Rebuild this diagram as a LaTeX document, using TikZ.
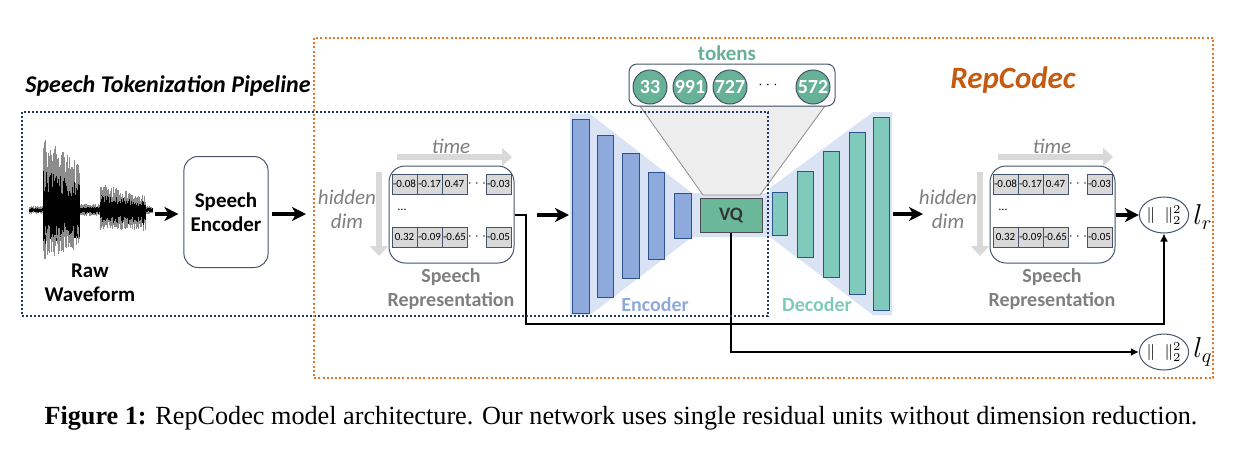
\documentclass[tikz,border=0pt]{standalone}
\usepackage{fontspec}
\setmainfont{Carlito}
\newfontfamily\capfont{Liberation Serif}
\usetikzlibrary{arrows.meta,shapes.geometric}

\definecolor{navyline}{RGB}{32,56,100}
\definecolor{orangeline}{RGB}{232,118,40}
\definecolor{repcol}{RGB}{197,90,17}
\definecolor{encfill}{RGB}{142,169,219}
\definecolor{encdraw}{RGB}{47,82,143}
\definecolor{bgblue}{RGB}{218,227,243}
\definecolor{decfill}{RGB}{127,202,187}
\definecolor{vqfill}{RGB}{106,183,154}
\definecolor{tokfill}{RGB}{103,178,151}
\definecolor{labgray}{RGB}{127,127,127}
\definecolor{arrgray}{RGB}{217,217,217}
\definecolor{cellfill}{RGB}{217,217,217}
\definecolor{boxline}{RGB}{68,84,106}
\definecolor{wavegray}{RGB}{140,140,140}

\begin{document}
\begin{tikzpicture}[x=0.5pt, y=-0.5pt,
    thickarrow/.style={-{Stealth[length=7pt,width=7pt,inset=2pt]}, line width=1.7pt},
    thinarrow/.style={-{Latex[length=4pt,width=4pt]}, line width=1pt},
    grayarrow/.style={-{Triangle[length=5pt,width=9pt]}, line width=3pt, arrgray},
    bar/.style={draw=encdraw, line width=0.5pt},
    cell/.style={draw=boxline, fill=cellfill, line width=0.4pt, minimum width=12.5pt, minimum height=10pt, inner sep=0pt, font=\fontsize{5.5}{6}\selectfont},
    repbox/.style={draw=boxline, line width=0.5pt, rounded corners=8pt, minimum width=62.5pt, minimum height=48.5pt},
    graylab/.style={labgray, font=\bfseries\fontsize{10}{12}\selectfont, align=center},
    axislab/.style={labgray, font=\itshape\fontsize{10.5}{12}\selectfont, align=center},
    tokcirc/.style={circle, draw=boxline, fill=tokfill, line width=0.5pt, minimum size=17pt, inner sep=0pt, text=white, font=\bfseries\fontsize{10}{11}\selectfont},
    lossnode/.style={draw=boxline, ellipse, line width=0.5pt, minimum width=22pt, minimum height=18pt, inner sep=0pt, font=\fontsize{8.5}{10}\selectfont}]
\useasboundingbox (0,0) rectangle (1242,462);

% waveform
\pgfmathsetseed{11}
\foreach \x in {29,29.5,...,152}{
  \pgfmathsetmacro\amp{\x<43 ? 4 : (\x<80 ? 75-0.8*(\x-43) : (\x<100 ? 6 : (\x<133 ? 27-0.3*(\x-100) : (\x<146 ? 15 : 4))))}
  \pgfmathsetmacro\ampd{\x<43 ? 4 : (\x<80 ? 50-0.3*(\x-43) : (\x<100 ? 6 : (\x<133 ? 20 : (\x<146 ? 22 : 4))))}
  \pgfmathsetmacro\up{\amp*(0.5+0.5*rnd)}
  \pgfmathsetmacro\dn{\ampd*(0.5+0.5*rnd)}
  \draw[wavegray, line width=0.5pt] (\x,210-\up) -- (\x,210+\dn);
  \pgfmathsetmacro\upb{\amp*(0.25+0.35*rnd)}
  \pgfmathsetmacro\dnb{\ampd*(0.3+0.4*rnd)}
  \draw[black, line width=0.5pt] (\x,210-\upb) -- (\x,210+\dnb);
}
\node[font=\bfseries\fontsize{10.5}{12}\selectfont, align=center] (rawlab) at (90,283) {Raw\\Waveform};

\node[draw=boxline, line width=0.5pt, rounded corners=7pt, minimum width=36pt, minimum height=55.5pt,
  font=\bfseries\fontsize{10.5}{12}\selectfont, align=center] (enc) at (226,212) {Speech\\Encoder};
\coordinate (wavend) at (155,214);
\coordinate (encout) at (306,214);
\draw[thickarrow, shorten >=2.5pt] (wavend) -- (enc.west |- wavend);
\draw[thickarrow, shorten <=1.5pt] (enc.east |- encout) -- (encout);

% speech representations
\foreach \bx/\nm in {389/repin, 990/repout}{
  \node[repbox] (\nm) at (\bx+62.5,214.5) {};
  \foreach \cx/\va/\vb [count=\k] in {15.5/-0.08/0.32, 40.5/-0.17/-0.09, 65.5/0.47/-0.65, 109.5/-0.03/-0.05}{
    \node[cell] (\nm-a\k) at (\bx+\cx,184) {\va};
    \node[cell] (\nm-b\k) at (\bx+\cx,237) {\vb};
  }
  \node[font=\fontsize{6}{6}\selectfont] (\nm-da) at (\bx+88,184) {$\cdots$};
  \node[font=\fontsize{6}{6}\selectfont] (\nm-db) at (\bx+88,237) {$\cdots$};
  \node[font=\fontsize{6}{6}\selectfont] (\nm-dm) at (\bx+13,210) {\ldots};
  \draw[grayarrow] (\bx+8,157) -- (\bx+123,157);
  \node[axislab] (\nm-time) at (\bx+62,146) {time};
  \draw[grayarrow] (\bx-10,172) -- (\bx-10,256);
  \node[axislab] (\nm-dim) at (\bx-42,209) {hidden\\dim};
  \node[graylab] (\nm-lab) at (\bx+62,289) {Speech\\Representation};
}

% encoder / decoder
\fill[bgblue] (570,114) -- (590,114) -- (692,193) -- (770,193) -- (770,188) -- (873,112) -- (892,112)
  -- (892,315) -- (873,315) -- (770,237) -- (692,237) -- (590,315) -- (570,315) -- cycle;
\filldraw[fill=black!7, draw=black!45, line width=0.4pt] (640,106) -- (825,106) -- (760,195) -- (703,195) -- cycle;
\foreach \a/\b/\c/\d in {572/119/589/313, 597/135/613/297, 622/153/639/278, 648/172/664/259, 674/193/691/238}
  \draw[bar, fill=encfill] (\a,\b) rectangle (\c,\d);
\foreach \a/\b/\c/\d in {772/192/787/235, 797/171/813/257, 823/151/839/277, 849/132/865/294, 873/117/889/310}
  \draw[bar, fill=decfill] (\a,\b) rectangle (\c,\d);
\node[draw=black!70, fill=vqfill, line width=0.5pt, minimum width=31pt, minimum height=17pt, inner sep=0pt,
  text=black!80, font=\bfseries\fontsize{9.5}{10}\selectfont] (vq) at (731,215) {VQ};
\node[encfill, font=\bfseries\fontsize{10}{12}\selectfont] (enclab) at (655,305) {Encoder};
\node[decfill, font=\bfseries\fontsize{10}{12}\selectfont] (declab) at (817,305) {Decoder};
\coordinate (encin) at (537,215);
\coordinate (encedge) at (569,215);
\draw[thickarrow] (encin) -- (encedge);
\coordinate (decedge) at (893,214);
\coordinate (decout) at (923,214);
\draw[thickarrow] (decedge) -- (decout);

% tokens
\node[draw=boxline, fill=white, line width=0.5pt, rounded corners=4pt, minimum width=103pt, minimum height=21pt] (tok) at (732,85) {};
\node[tokcirc] (t1) at (650,87) {33};
\node[tokcirc] (t2) at (690,87) {991};
\node[tokcirc] (t3) at (730,87) {727};
\node[font=\fontsize{7}{7}\selectfont] (t4) at (768,85) {$\cdots$};
\node[tokcirc] (t5) at (813,87) {572};
\node[tokfill, font=\bfseries\fontsize{10.5}{12}\selectfont] (toklab) at (727,53) {tokens};

% losses
\node[lossnode] (lr) at (1164,215) {$\|\;\;\|_2^2$};
\node[lossnode] (lq) at (1164,352) {$\|\;\;\|_2^2$};
\node[anchor=west, inner sep=0pt, font=\fontsize{14}{14}\selectfont] (lrlab) at (1193,217) {$l_r$};
\node[anchor=west, inner sep=0pt, font=\fontsize{14}{14}\selectfont] (lqlab) at (1193,352) {$l_q$};
\draw[thickarrow] (repout.east |- lr.west) -- (lr.west);
\coordinate (bendr) at (526,324);
\draw[thinarrow] (repin.east |- lr.west) -| (bendr) -| (lr.south);
\draw[thinarrow] (vq.south) |- (lq.west);

% frames
\draw[navyline, line width=1.2pt, dash pattern=on 1pt off 1pt] (22,112) rectangle (768,316);
\draw[orangeline, line width=1.1pt, dash pattern=on 1pt off 1.1pt] (314,38) rectangle (1213,378);
\node[anchor=west, inner sep=0pt, font=\bfseries\itshape\fontsize{12}{13}\selectfont] (pipe) at (25,86) {Speech Tokenization Pipeline};
\node[repcol, font=\bfseries\itshape\fontsize{15.5}{16}\selectfont] (codec) at (1013,80) {RepCodec};

% caption
\node[font=\capfont\fontsize{13.1}{15}\selectfont] (cap) at (621,418) {\textbf{Figure 1:} RepCodec model architecture. Our network uses single residual units without dimension reduction.};
\end{tikzpicture}
\end{document}
